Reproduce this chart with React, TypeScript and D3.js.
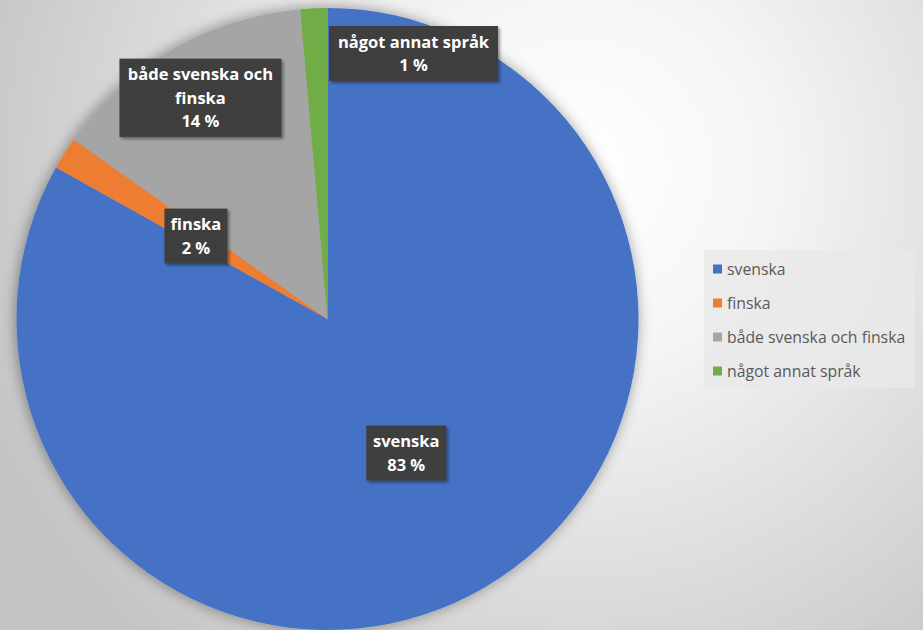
import React from "react";
import * as d3 from "d3";

const categories = ["svenska", "finska", "både svenska och finska", "något annat språk"];
const values = [83.1, 1.7, 13.8, 1.4];
const percentLabels = ["83 %", "2 %", "14 %", "1 %"];
const labelLines = [["svenska"], ["finska"], ["både svenska och", "finska"], ["något annat språk"]];
const colors = ["#4472C4", "#ED7D31", "#A5A5A5", "#70AD47"];

const W = 923;
const H = 630;
const cx = 327.5;
const cy = 319;
const R = 311;
const FONT = "'Open Sans', 'Noto Sans', sans-serif";

export default function App() {
  const pie = d3.pie<number>().value((d) => d).sort(null)(values);
  const arc = d3.arc<d3.PieArcDatum<number>>().innerRadius(0).outerRadius(R);
  const labelRadius = [0.5, 0.5, 0.82, 0];
  const lineH = 23.5;
  const boxes = pie.map((p, i) => {
    const lines = [...labelLines[i], percentLabels[i]];
    const mid = (p.startAngle + p.endAngle) / 2;
    let x = Math.sin(mid) * R * labelRadius[i];
    let y = -Math.cos(mid) * R * labelRadius[i];
    if (i === 3) {
      x = 86;
      y = -265.5;
    }
    const widths = [80, 63, 162, 169];
    const h = lines.length * lineH + 8;
    return { x, y, lines, w: widths[i], h, mid };
  });

  const legendY = d3.scaleBand<string>().domain(categories).range([252, 388]).paddingInner(0);

  return (
    <svg width={W} height={H} style={{ position: "absolute", left: 0, top: 0 }}>
      <defs>
        <radialGradient id="bg" gradientUnits="userSpaceOnUse" cx={580} cy={170} r={640}>
          <stop offset="0" stopColor="#ffffff" />
          <stop offset="0.3" stopColor="#f5f5f5" />
          <stop offset="1" stopColor="#c4c4c4" />
        </radialGradient>
        <filter id="pieShadow" x="-20%" y="-20%" width="140%" height="140%">
          <feGaussianBlur in="SourceAlpha" stdDeviation="7" />
          <feOffset dx="-1" dy="0" result="b" />
          <feComponentTransfer>
            <feFuncA type="linear" slope="0.4" />
          </feComponentTransfer>
          <feMerge>
            <feMergeNode />
            <feMergeNode in="SourceGraphic" />
          </feMerge>
        </filter>
        <filter id="boxShadow" x="-20%" y="-20%" width="150%" height="150%">
          <feGaussianBlur in="SourceAlpha" stdDeviation="1.5" />
          <feOffset dx="2" dy="2" />
          <feComponentTransfer>
            <feFuncA type="linear" slope="0.4" />
          </feComponentTransfer>
          <feMerge>
            <feMergeNode />
            <feMergeNode in="SourceGraphic" />
          </feMerge>
        </filter>
        <pattern id="dots" width="4" height="4" patternUnits="userSpaceOnUse">
          <rect width="4" height="4" fill="#3d3d3d" />
          <rect x="0" y="0" width="1" height="1" fill="#4c4c4c" />
          <rect x="2" y="2" width="1" height="1" fill="#4c4c4c" />
        </pattern>
      </defs>
      <rect width={W} height={H} fill="url(#bg)" />
      <g transform={`translate(${cx},${cy})`}>
        <g filter="url(#pieShadow)">
          {pie.map((p, i) => (
            <path key={i} d={arc(p) || ""} fill={colors[i]} />
          ))}
        </g>
        <polyline
          points={`-6,${-R + 37} -6,${-R + 64} 1,${-R + 64}`}
          fill="none"
          stroke="#8a8a8a"
          strokeWidth={1}
        />
        {boxes.map((b, i) => (
          <g key={i} transform={`translate(${b.x},${b.y})`}>
            <rect
              x={-b.w / 2}
              y={-b.h / 2}
              width={b.w}
              height={b.h}
              fill="url(#dots)"
              filter="url(#boxShadow)"
            />
            {b.lines.map((l, j) => (
              <text
                key={j}
                x={0}
                y={-b.h / 2 + 4 + lineH * j + lineH / 2}
                dy="0.36em"
                textAnchor="middle"
                fill="#ffffff"
                fontFamily={FONT}
                fontWeight={700}
                fontSize={16.5}
              >
                {l}
              </text>
            ))}
          </g>
        ))}
      </g>
      <rect x={704} y={250} width={211} height={138} fill="#e9e9e9" fillOpacity={0.8} />
      {categories.map((c, i) => {
        const yy = (legendY(c) as number) + legendY.bandwidth() / 2;
        return (
          <g key={c}>
            <rect x={713} y={yy - 4.5} width={9} height={9} fill={colors[i]} />
            <text
              x={727}
              y={yy}
              dy="0.35em"
              fill="#595959"
              fontFamily={FONT}
              fontSize={15.8}
            >
              {c}
            </text>
          </g>
        );
      })}
    </svg>
  );
}
